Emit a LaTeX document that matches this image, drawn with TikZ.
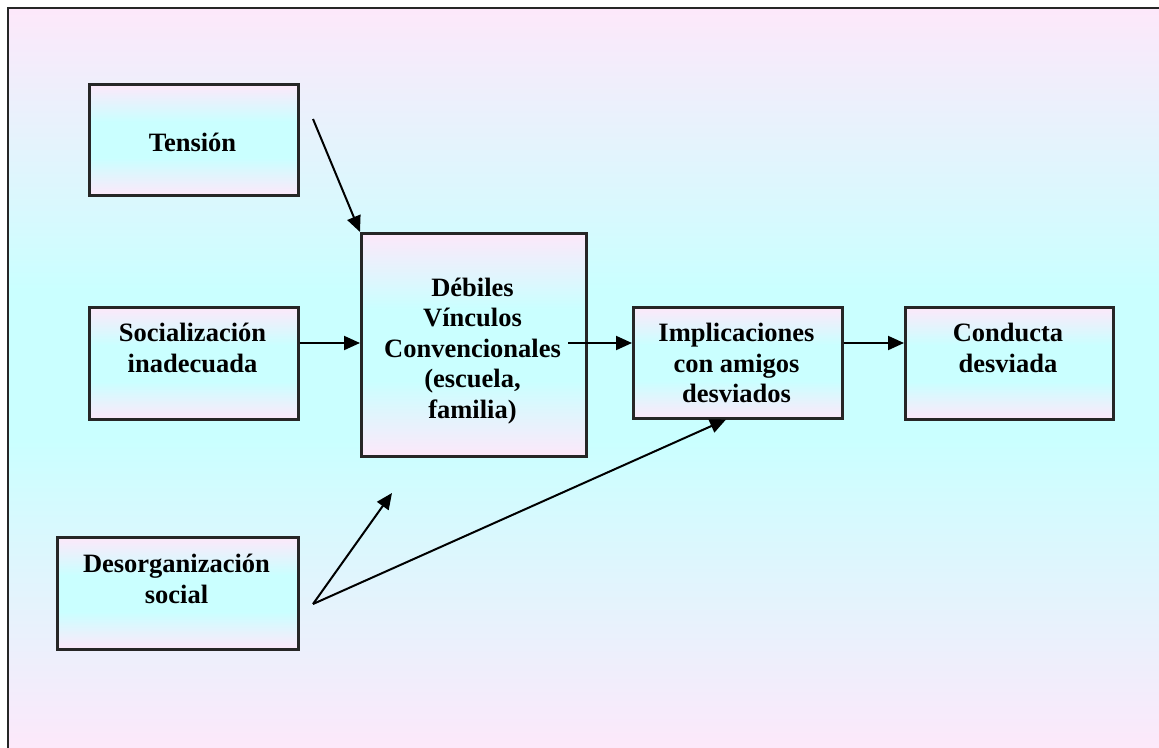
\documentclass[tikz,border=0pt]{standalone}
\usepackage{fontspec}
\setmainfont{Liberation Serif}
\usetikzlibrary{arrows.meta}
\definecolor{softpink}{RGB}{253,232,250}
\definecolor{softcyan}{RGB}{202,255,255}
% pink at the edges, a broad cyan band across the middle
\pgfdeclareverticalshading{pinkcyan}{100bp}{%
  color(0bp)=(softpink); color(25bp)=(softpink);
  color(42bp)=(softcyan); color(58bp)=(softcyan);
  color(75bp)=(softpink); color(100bp)=(softpink)}
\begin{document}
\begin{tikzpicture}[x=1pt,y=-1pt,
  frameline/.style={draw=black!85, line width=2.5pt},
  cell/.style={frameline, shading=pinkcyan, inner sep=0pt, anchor=north west},
  boxlabel/.style={align=center, font=\bfseries\fontsize{26.5}{30.5}\selectfont, inner sep=0pt, text=black},
  link/.style={line width=2pt, -{Triangle[length=16pt,width=14pt]}}]
  \clip (0,0) rectangle (1159,747);
  % background panel: pink -> cyan -> pink from top to bottom
  \shade[top color=softpink, bottom color=softcyan] (8,8) rectangle (1180,290.5);
  \fill[softcyan] (8,290) rectangle (1180,440);
  \shade[top color=softcyan, bottom color=softpink] (8,439.5) rectangle (1180,753);
  \draw[frameline] (8,8) rectangle (1180,753);

  % boxes
  \node[cell, minimum width=209pt, minimum height=111pt] (tension)  at (88,83)  {};
  \node[cell, minimum width=209pt, minimum height=112pt] (social)   at (88,306) {};
  \node[cell, minimum width=225pt, minimum height=223pt] (debiles)  at (360,232) {};
  \node[cell, minimum width=209pt, minimum height=111pt] (implic)   at (632,306) {};
  \node[cell, minimum width=208pt, minimum height=112pt] (conducta) at (904,306) {};
  \node[cell, minimum width=241pt, minimum height=112pt] (desorg)   at (56,536) {};

  % labels
  \node[boxlabel] (tension-t)  at (192.5,142) {Tensión};
  \node[boxlabel] (social-t)   at (192.5,348) {Socialización\\inadecuada};
  \node[boxlabel] (debiles-t)  at (472.5,351) {Débiles\\Vínculos\\Convencionales\\(escuela,\\familia)};
  \node[boxlabel] (implic-t)   at (736.5,363) {Implicaciones\\con amigos\\desviados};
  \node[boxlabel] (conducta-t) at (1008,348)  {Conducta\\desviada};
  \node[boxlabel] (desorg-t)   at (176.5,579) {Desorganización\\social};

  % connectors
  \coordinate (row) at (0,343);
  \coordinate (t-from) at (313,119);
  \draw[link] (t-from) -- (debiles.north west);
  \draw[link] (social.east |- row) -- (debiles.west |- row);
  \coordinate (d-out) at (568,343);
  \draw[link] (d-out) -- (implic.west |- row);
  \draw[link] (implic.east |- row) -- (conducta.west |- row);
  \coordinate (z-from) at (313,604);
  \coordinate (z-up) at (392,493);
  \coordinate (z-col) at (726,0);
  \draw[link] (z-from) -- (z-up);
  \draw[link] (z-from) -- (implic.south -| z-col);
\end{tikzpicture}
\end{document}
